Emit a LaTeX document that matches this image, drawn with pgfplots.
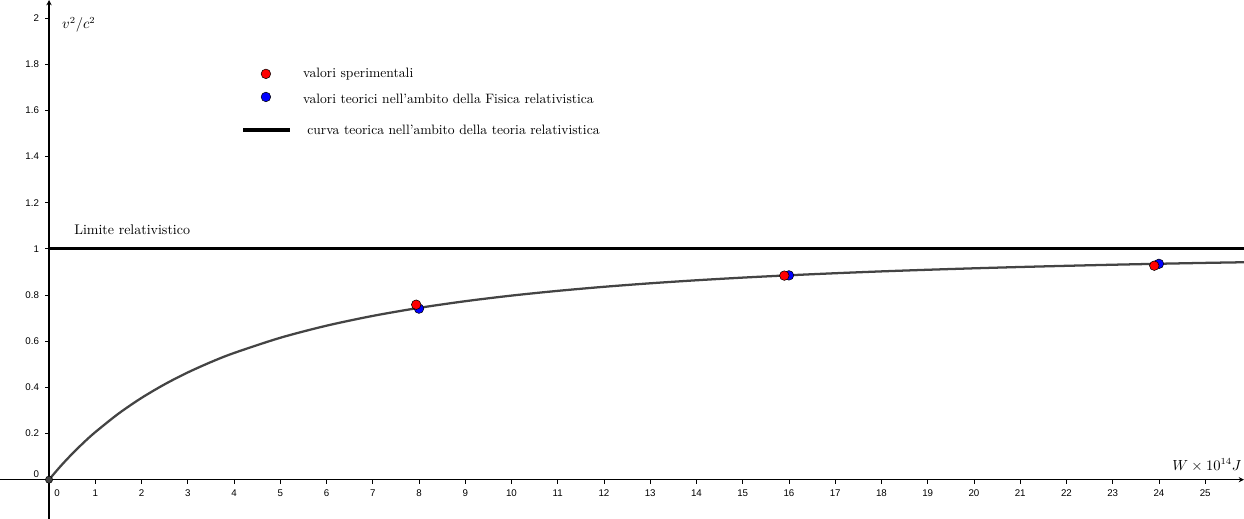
\documentclass[border=0pt]{standalone}
\usepackage{fontspec}
\usepackage{pgfplots}
\usetikzlibrary{arrows.meta}
\pgfplotsset{compat=1.18}
\newfontfamily\ticksans{Liberation Sans}
\definecolor{curvegray}{RGB}{68,68,68}
\begin{document}
\begin{tikzpicture}
\begin{axis}[
  scale only axis, width=933pt, height=389pt,
  xmin=-1.06, xmax=25.84, ymin=-0.169, ymax=2.078,
  axis lines=middle,
  axis line style={line width=0.8pt,-{Stealth[length=4pt,width=4pt]}},
  hide obscured x ticks=false, hide obscured y ticks=false,
  xtick={1,2,...,25}, ytick={0.2,0.4,0.6,0.8,1,1.2,1.4,1.6,1.8,2},
  extra x ticks={0}, extra y ticks={0},
  extra x tick style={xticklabel style={xshift=6pt}},
  extra y tick style={yticklabel style={yshift=4pt}},
  tick align=outside, major tick length=3pt,
  tick style={line width=0.6pt,black},
  /pgf/number format/assume math mode=true,
  tick label style={font=\ticksans\fontsize{7.3}{8}\selectfont},
  xticklabel style={yshift=-1pt},
  yticklabel style={xshift=-1pt},
  clip=false,
]
% relativistic limit
\addplot[black, line width=2.4pt] coordinates {(0,1) (25.84,1)};
% theoretical curve
\addplot[curvegray, line width=1.7pt, smooth] coordinates {
(0,0) (0.25,0.0584) (0.5,0.1118) (0.75,0.1608) (1,0.2058) (1.5,0.2857) (2,0.3541)
(2.5,0.4131) (3,0.4644) (3.5,0.5093) (4,0.5487) (5,0.6146) (6,0.6670) (7,0.7094)
(8,0.7442) (9,0.7731) (10,0.7974) (11,0.8179) (12,0.8355) (13,0.8507) (14,0.8638)
(15,0.8753) (16,0.8854) (17,0.8943) (18,0.9023) (19,0.9093) (20,0.9156) (21,0.9213)
(22,0.9264) (23,0.9311) (24,0.9353) (25,0.9391) (25.84,0.9419)};
% origin point
\addplot[only marks, mark=*, mark size=2.7pt, mark options={fill=curvegray, draw=black, line width=0.4pt}] coordinates {(0,0)};
% theoretical values
\addplot[only marks, mark=*, mark size=3.6pt, mark options={fill=blue, draw=black, line width=0.4pt}] coordinates {(8.0,0.741) (16.0,0.885) (24.0,0.935)};
% experimental values
\addplot[only marks, mark=*, mark size=3.6pt, mark options={fill=red, draw=black, line width=0.4pt}] coordinates {(7.94,0.758) (15.9,0.884) (23.9,0.927)};
% legend markers
\addplot[only marks, mark=*, mark size=3.6pt, mark options={fill=red, draw=black, line width=0.4pt}] coordinates {(4.69,1.758)};
\addplot[only marks, mark=*, mark size=3.6pt, mark options={fill=blue, draw=black, line width=0.4pt}] coordinates {(4.69,1.658)};
\addplot[black, line width=2.4pt] coordinates {(4.20,1.515) (5.21,1.515)};
\node[anchor=west, inner sep=0pt, font=\fontsize{10.2}{11}\selectfont] at (axis cs:5.49,1.758) {valori sperimentali};
\node[anchor=west, inner sep=0pt, font=\fontsize{10.2}{11}\selectfont] at (axis cs:5.49,1.648) {valori teorici nell'ambito della Fisica relativistica};
\node[anchor=west, inner sep=0pt, font=\fontsize{10.2}{11}\selectfont] at (axis cs:5.58,1.515) {curva teorica nell'ambito della teoria relativistica};
\node[anchor=base west, inner sep=0pt, font=\fontsize{10.5}{12}\selectfont] at (axis cs:0.54,1.06) {Limite relativistico};
\node[anchor=west, inner sep=0pt, font=\fontsize{10.5}{12}\selectfont] at (axis cs:0.28,1.97) {$v^2/c^2$};
\node[anchor=south east, inner sep=0pt, font=\fontsize{10.5}{12}\selectfont] at (axis cs:25.79,0.035) {$W\times 10^{14}J$};
\coordinate (sw) at (rel axis cs:0,0);
\coordinate (ne) at (rel axis cs:1,1);
\end{axis}
\pgfresetboundingbox
\path (sw) rectangle (ne);
\end{tikzpicture}
\end{document}
